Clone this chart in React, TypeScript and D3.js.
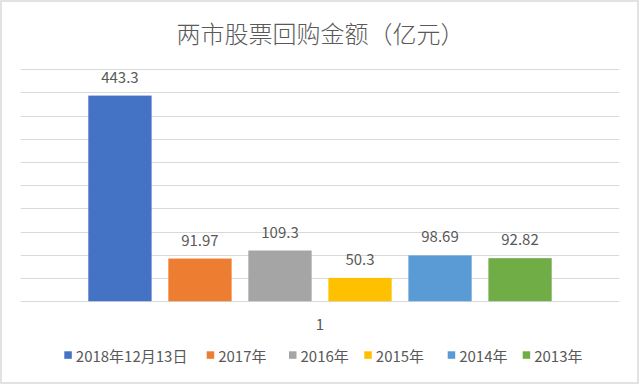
import * as d3 from "d3";

// series names (legend) and the single category
const seriesNames = [
  "2018年12月13日",
  "2017年",
  "2016年",
  "2015年",
  "2014年",
  "2013年",
];
const seriesValues = [443.3, 91.97, 109.3, 50.3, 98.69, 92.82];
const seriesLabels = ["443.3", "91.97", "109.3", "50.3", "98.69", "92.82"];
const seriesColors = [
  "#4472c4",
  "#ed7d31",
  "#a5a5a5",
  "#ffc000",
  "#5b9bd5",
  "#70ad47",
];
const categoryLabel = "1";
const yTicks = [0, 50, 100, 150, 200, 250, 300, 350, 400, 450, 500];

const title = "两市股票回购金额（亿元）";

const width = 640;
const height = 385;

// plot area, in pixels
const plot = { left: 20.7, right: 619.3, top: 69.3, bottom: 301.2 };

const font = "'Noto Sans CJK SC', 'Noto Sans', sans-serif";
const textColor = "#595959";
const gridColor = "#d9d9d9";

// legend item left edges (swatch x)
const legendX = [64.3, 206.7, 289, 364.3, 447.7, 522.7];

export default function App() {
  const x = d3
    .scaleBand<string>()
    .domain(seriesNames)
    .range([plot.left, plot.right])
    .paddingInner(0.209)
    .paddingOuter(0.845);

  const y = d3.scaleLinear([0, 500], [plot.bottom, plot.top]);

  return (
    <svg
      width={width}
      height={height}
      style={{ position: "absolute", left: 0, top: 0, background: "#fff" }}
      fontFamily={font}
    >
      <rect
        x={1}
        y={1}
        width={width - 3}
        height={height - 3}
        fill="#fff"
        stroke={gridColor}
        strokeWidth={1.5}
      />

      <text
        x={width / 2 + 0.5}
        y={32}
        textAnchor="middle"
        dominantBaseline="central"
        fontSize={24}
        fontWeight={300}
        fill={textColor}
      >
        {title}
      </text>

      {/* gridlines */}
      <g stroke={gridColor} strokeWidth={1}>
        {yTicks.map((t) => (
          <line
            key={t}
            x1={plot.left}
            x2={plot.right}
            y1={Math.round(y(t)) + 0.5}
            y2={Math.round(y(t)) + 0.5}
          />
        ))}
      </g>

      {/* bars */}
      {seriesNames.map((name, i) => (
        <rect
          key={name}
          x={x(name)}
          y={y(seriesValues[i])}
          width={x.bandwidth()}
          height={y(0) - y(seriesValues[i])}
          fill={seriesColors[i]}
        />
      ))}

      {/* data labels */}
      {seriesNames.map((name, i) => (
        <text
          key={name}
          x={(x(name) ?? 0) + x.bandwidth() / 2}
          y={y(seriesValues[i]) - 13}
          textAnchor="middle"
          fontSize={15}
          fill={textColor}
        >
          {seriesLabels[i]}
        </text>
      ))}

      <text
        x={(plot.left + plot.right) / 2}
        y={323.5}
        textAnchor="middle"
        dominantBaseline="central"
        fontSize={15}
        fill={textColor}
      >
        {categoryLabel}
      </text>

      {/* legend */}
      {seriesNames.map((name, i) => (
        <g key={name} transform={`translate(${legendX[i]},355)`}>
          <rect x={0} y={-3.7} width={7.5} height={7.5} fill={seriesColors[i]} />
          <text
            x={11.5}
            y={0}
            dominantBaseline="central"
            fontSize={15}
            fill={textColor}
          >
            {name}
          </text>
        </g>
      ))}
    </svg>
  );
}
